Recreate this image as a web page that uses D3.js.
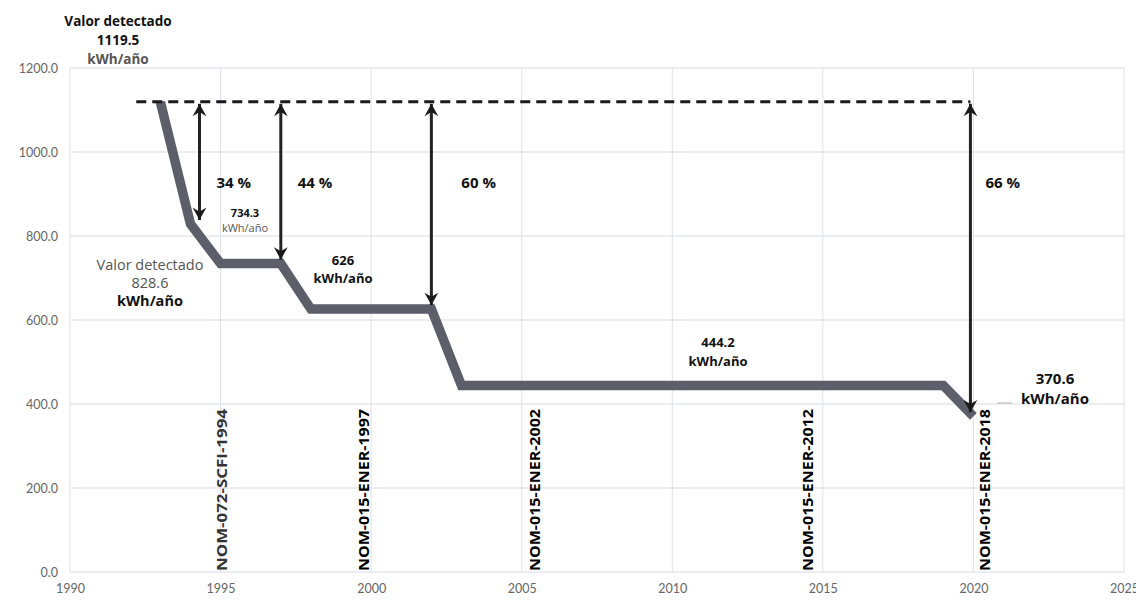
<!DOCTYPE html>
<html>
<head>
<meta charset="utf-8">
<script src="https://cdn.jsdelivr.net/npm/d3@7"></script>
<style>
  body { margin: 0; background: #fff; }
  svg { display: block; font-family: "Open Sans", sans-serif; }
  .tick text { fill: #666; font-family: Lato, sans-serif; font-size: 12.5px; }
</style>
</head>
<body>
<svg id="chart" width="1136" height="605"></svg>
<script>
// data
var years = [1993, 1994, 1995, 1997, 1998, 2002, 2003, 2019, 2020];
var consumo = [1119.5, 828.6, 734.3, 734.3, 626, 626, 444.2, 444.2, 370.6];

var arrowYears = [1994.3, 1997, 2002, 2019.9];
var arrowEnds = [828.6, 734.3, 626, 370.6];
var percentLabels = ["34 %", "44 %", "60 %", "66 %"];
var baseValue = 1119.5;

var normNames = ["NOM-072-SCFI-1994", "NOM-015-ENER-1997", "NOM-015-ENER-2002", "NOM-015-ENER-2012", "NOM-015-ENER-2018"];
var normYears = [1995.05, 1999.76, 2005.44, 2014.5, 2020.4];

var xTicks = [1990, 1995, 2000, 2005, 2010, 2015, 2020, 2025];
var yTicks = [0, 200, 400, 600, 800, 1000, 1200];

var svg = d3.select("#chart");

var x = d3.scaleLinear().domain([1990, 2025]).range([70, 1124]);
var y = d3.scaleLinear().domain([0, 1200]).range([572, 68]);

// grid
svg.append("g")
    .selectAll("line")
    .data(yTicks)
    .enter()
    .append("line")
    .attr("x1", x(1990)).attr("x2", x(2025))
    .attr("y1", d => y(d)).attr("y2", d => y(d))
    .attr("stroke", "#d9dce6")
    .attr("stroke-width", 1.2);

svg.append("g")
    .selectAll("line")
    .data(xTicks)
    .enter()
    .append("line")
    .attr("x1", d => x(d)).attr("x2", d => x(d))
    .attr("y1", y(0)).attr("y2", y(1200))
    .attr("stroke", "#dfe1e8")
    .attr("stroke-width", 1);

// axes (labels only)
var xAxis = svg.append("g")
    .attr("transform", "translate(0," + y(0) + ")")
    .call(d3.axisBottom(x).tickValues(xTicks).tickFormat(d3.format("d")).tickSize(0).tickPadding(12));
xAxis.select(".domain").remove();

var yAxis = svg.append("g")
    .attr("transform", "translate(58,0)")
    .call(d3.axisLeft(y).tickValues(yTicks).tickFormat(d3.format(".1f")).tickSize(0).tickPadding(0));
yAxis.select(".domain").remove();

// main consumption line
var pts = years.map((yr, i) => [yr, consumo[i]]);
svg.append("path")
    .datum(pts)
    .attr("fill", "none")
    .attr("stroke", "#5c5e69")
    .attr("stroke-width", 9.5)
    .attr("stroke-linejoin", "miter")
    .attr("d", d3.line().x(d => x(d[0])).y(d => y(d[1])));

// dashed reference line
svg.append("line")
    .attr("x1", x(1992.2)).attr("x2", x(2019.9))
    .attr("y1", y(baseValue)).attr("y2", y(baseValue))
    .attr("stroke", "#1a1a1a")
    .attr("stroke-width", 3)
    .attr("stroke-dasharray", "10,6");

// arrow markers
var defs = svg.append("defs");
defs.append("marker")
    .attr("id", "head")
    .attr("viewBox", "0 0 12 12")
    .attr("refX", 10).attr("refY", 6)
    .attr("markerWidth", 5.5).attr("markerHeight", 5.5)
    .attr("markerUnits", "strokeWidth")
    .attr("orient", "auto-start-reverse")
    .append("path")
    .attr("d", "M1,1 L10,6 L1,11 L4,6 Z")
    .attr("fill", "#1a1a1a");

svg.append("g")
    .selectAll("line")
    .data(arrowYears)
    .enter()
    .append("line")
    .attr("x1", d => x(d)).attr("x2", d => x(d))
    .attr("y1", y(baseValue) + 2)
    .attr("y2", (d, i) => y(arrowEnds[i]) - 4)
    .attr("stroke", "#222")
    .attr("stroke-width", 3)
    .attr("marker-start", "url(#head)")
    .attr("marker-end", "url(#head)");

// percent labels
var pctOffset = [17, 17, 30, 15];
svg.append("g")
    .selectAll("text")
    .data(percentLabels)
    .enter()
    .append("text")
    .attr("x", (d, i) => x(arrowYears[i]) + pctOffset[i])
    .attr("y", 188)
    .attr("font-size", 15)
    .attr("font-weight", "bold")
    .attr("fill", "#111")
    .text(d => d);

// norm labels (vertical)
svg.append("g")
    .selectAll("text")
    .data(normNames)
    .enter()
    .append("text")
    .attr("transform", (d, i) => "translate(" + (x(normYears[i]) + 5) + "," + (y(0) - 1) + ") rotate(-90)")
    .attr("font-size", 13.5)
    .attr("font-weight", "bold")
    .attr("fill", (d, i) => i === 0 ? "#333" : "#000")
    .attr("textLength", 162)
    .attr("lengthAdjust", "spacingAndGlyphs")
    .text(d => d);

// value annotations
function addLabel(lines, cx, cy, size, lh) {
    var t = svg.append("text")
        .attr("text-anchor", "middle")
        .attr("font-size", size);
    lines.forEach((l, i) => {
        t.append("tspan")
            .attr("x", cx)
            .attr("y", cy + i * lh)
            .attr("font-weight", l.bold ? "bold" : "normal")
            .attr("fill", l.color || "#111")
            .text(l.text);
    });
}

addLabel([
    {text: "Valor detectado", bold: true},
    {text: consumo[0], bold: true},
    {text: "kWh/año", bold: true, color: "#555"}
], 118, 26, 13.5, 19);

addLabel([
    {text: "Valor detectado", color: "#555"},
    {text: consumo[1], color: "#555"},
    {text: "kWh/año", bold: true}
], 150, 270, 14.5, 18);

addLabel([
    {text: consumo[2], bold: true},
    {text: "kWh/año", color: "#555"}
], 245, 217, 11, 15);

addLabel([
    {text: consumo[4], bold: true},
    {text: "kWh/año", bold: true}
], 343, 265, 13, 18);

addLabel([
    {text: consumo[6], bold: true},
    {text: "kWh/año", bold: true}
], 718, 347, 13, 19);

addLabel([
    {text: consumo[8], bold: true},
    {text: "kWh/año", bold: true}
], 1055, 384, 15, 20);

// leader line for the last label
svg.append("line")
    .attr("x1", 997).attr("x2", 1012)
    .attr("y1", 403).attr("y2", 403)
    .attr("stroke", "#bbb")
    .attr("stroke-width", 1.2);
</script>
</body>
</html>
